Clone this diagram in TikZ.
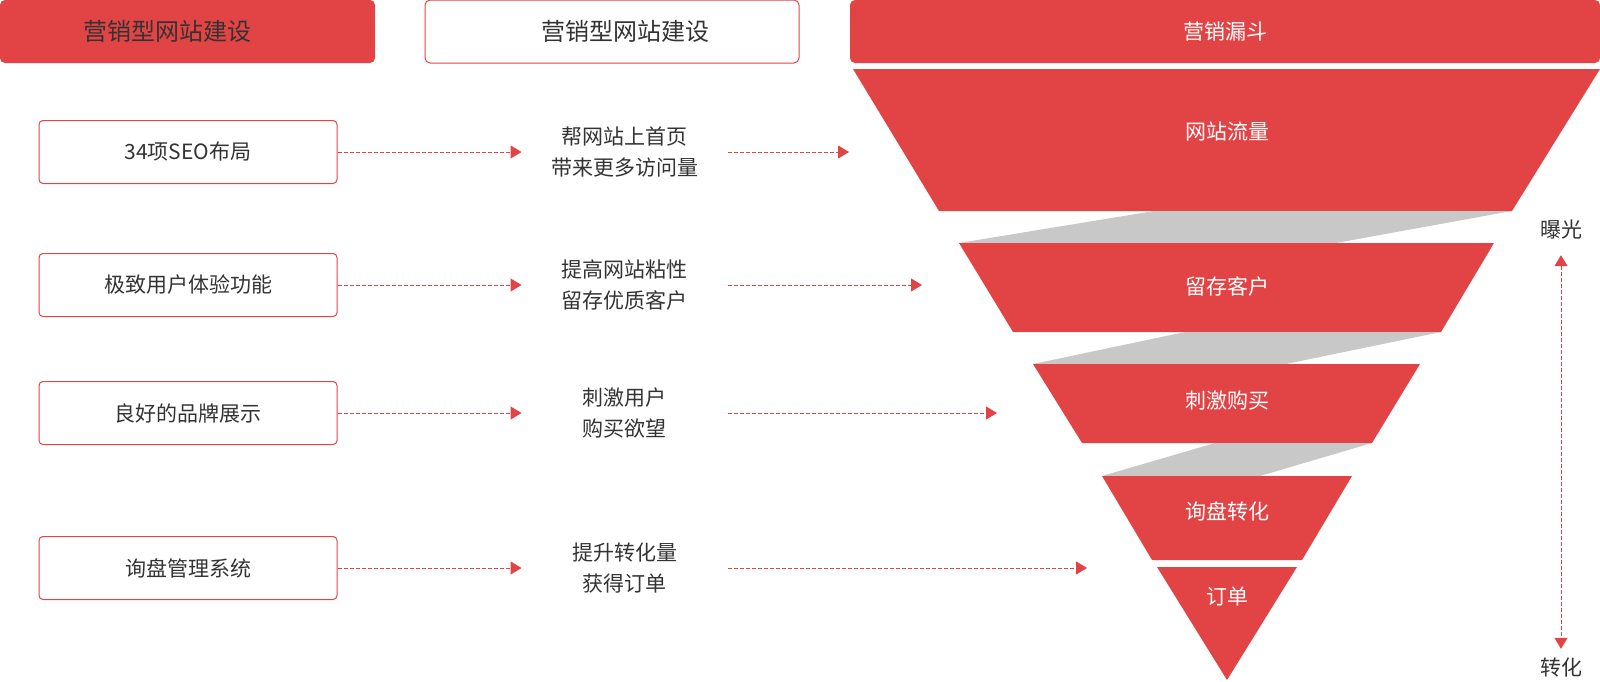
\documentclass[tikz,border=0pt]{standalone}
\usepackage{fontspec}
\setmainfont{Noto Sans CJK SC}
\usetikzlibrary{arrows.meta,positioning}
\definecolor{funnelred}{HTML}{E24445}
\definecolor{gapgray}{HTML}{C8C8C8}
\definecolor{textgray}{HTML}{333333}

\begin{document}
\begin{tikzpicture}[x=1pt, y=-1pt,
    headbox/.style={rounded corners=5pt, minimum height=63pt, font=\fontsize{24}{28}\selectfont},
    leftbox/.style={draw=funnelred, line width=1pt, rounded corners=4pt, minimum width=298pt, minimum height=63pt, text=textgray, font=\fontsize{21}{28}\selectfont},
    midtext/.style={align=center, minimum width=206pt, text=textgray, font=\fontsize{21}{31}\selectfont},
    segtext/.style={text=white, font=\fontsize{21}{28}\selectfont},
    sidetext/.style={text=textgray, font=\fontsize{21}{28}\selectfont},
    flow/.style={draw=funnelred, line width=1pt, dash pattern=on 4pt off 2pt, -{Triangle[length=11pt,width=13pt]}},
    bothflow/.style={draw=funnelred, line width=1pt, dash pattern=on 4pt off 2pt, {Triangle[length=11pt,width=13pt]}-{Triangle[length=11pt,width=13pt]}}]
  \useasboundingbox (0,0) rectangle (1600,681);

  % headers
  \node (head1) [headbox, fill=funnelred, text=textgray, minimum width=375pt] at (187.5,31.5) {\hspace*{-40pt}营销型网站建设};
  \node (head2) [headbox, draw=funnelred, line width=1pt, text=textgray, minimum width=374pt] at (612,31.5) {\hspace*{26pt}营销型网站建设};
  \node (head3) [headbox, fill=funnelred, text=white, minimum width=750pt, font=\fontsize{21}{28}\selectfont] at (1225,31.5) {营销漏斗};

  % funnel
  \fill[funnelred] (853,69) -- (1600,69) -- (1512,211) -- (939,211) -- cycle;
  \fill[gapgray] (1154,211) -- (1512,211) -- (1336,243) -- (959,243) -- cycle;
  \fill[funnelred] (959,243) -- (1494,243) -- (1441,332) -- (1013,332) -- cycle;
  \fill[gapgray] (1185,332) -- (1441,332) -- (1286,364) -- (1033,364) -- cycle;
  \fill[funnelred] (1033,364) -- (1420,364) -- (1372,443) -- (1082,443) -- cycle;
  \fill[gapgray] (1215,443) -- (1372,443) -- (1260,476) -- (1102,476) -- cycle;
  \fill[funnelred] (1102,476) -- (1352,476) -- (1302,560) -- (1152,560) -- cycle;
  \fill[funnelred] (1157,567) -- (1297,567) -- (1227,680) -- cycle;
  \node (traffic) [segtext] at (1227,131) {网站流量};
  \node (retain) [segtext] at (1227,286) {留存客户};
  \node (spur) [segtext] at (1227,401) {刺激购买};
  \node (inquiry) [segtext] at (1227,511) {询盘转化};
  \node (order) [segtext] at (1227,597) {订单};

  % left column
  \node (seo) [leftbox] at (188,152) {34项SEO布局};
  \node (ux) [leftbox] at (188,285) {极致用户体验功能};
  \node (brand) [leftbox] at (188,413) {良好的品牌展示};
  \node (crm) [leftbox] at (188,568) {询盘管理系统};

  % middle column
  \node (home) [midtext, right=184pt of seo] {帮网站上首页\\带来更多访问量};
  \node (sticky) [midtext, right=184pt of ux] {提高网站粘性\\留存优质客户};
  \node (desire) [midtext, right=184pt of brand] {刺激用户\\购买欲望};
  \node (boost) [midtext, right=184pt of crm] {提升转化量\\获得订单};

  \coordinate (end1) at (849,152);
  \coordinate (end2) at (922,285);
  \coordinate (end3) at (997,413);
  \coordinate (end4) at (1087,568);

  \draw[flow] (seo) -- (home);
  \draw[flow] (ux) -- (sticky);
  \draw[flow] (brand) -- (desire);
  \draw[flow] (crm) -- (boost);
  \draw[flow] (home) -- (end1);
  \draw[flow] (sticky) -- (end2);
  \draw[flow] (desire) -- (end3);
  \draw[flow] (boost) -- (end4);

  % right side
  \node (expose) [sidetext] at (1561,230) {曝光};
  \node (convert) [sidetext] at (1561,668) {转化};
  \draw[bothflow, shorten <=12pt, shorten >=6pt] (expose.south) -- (convert.north);
\end{tikzpicture}
\end{document}
